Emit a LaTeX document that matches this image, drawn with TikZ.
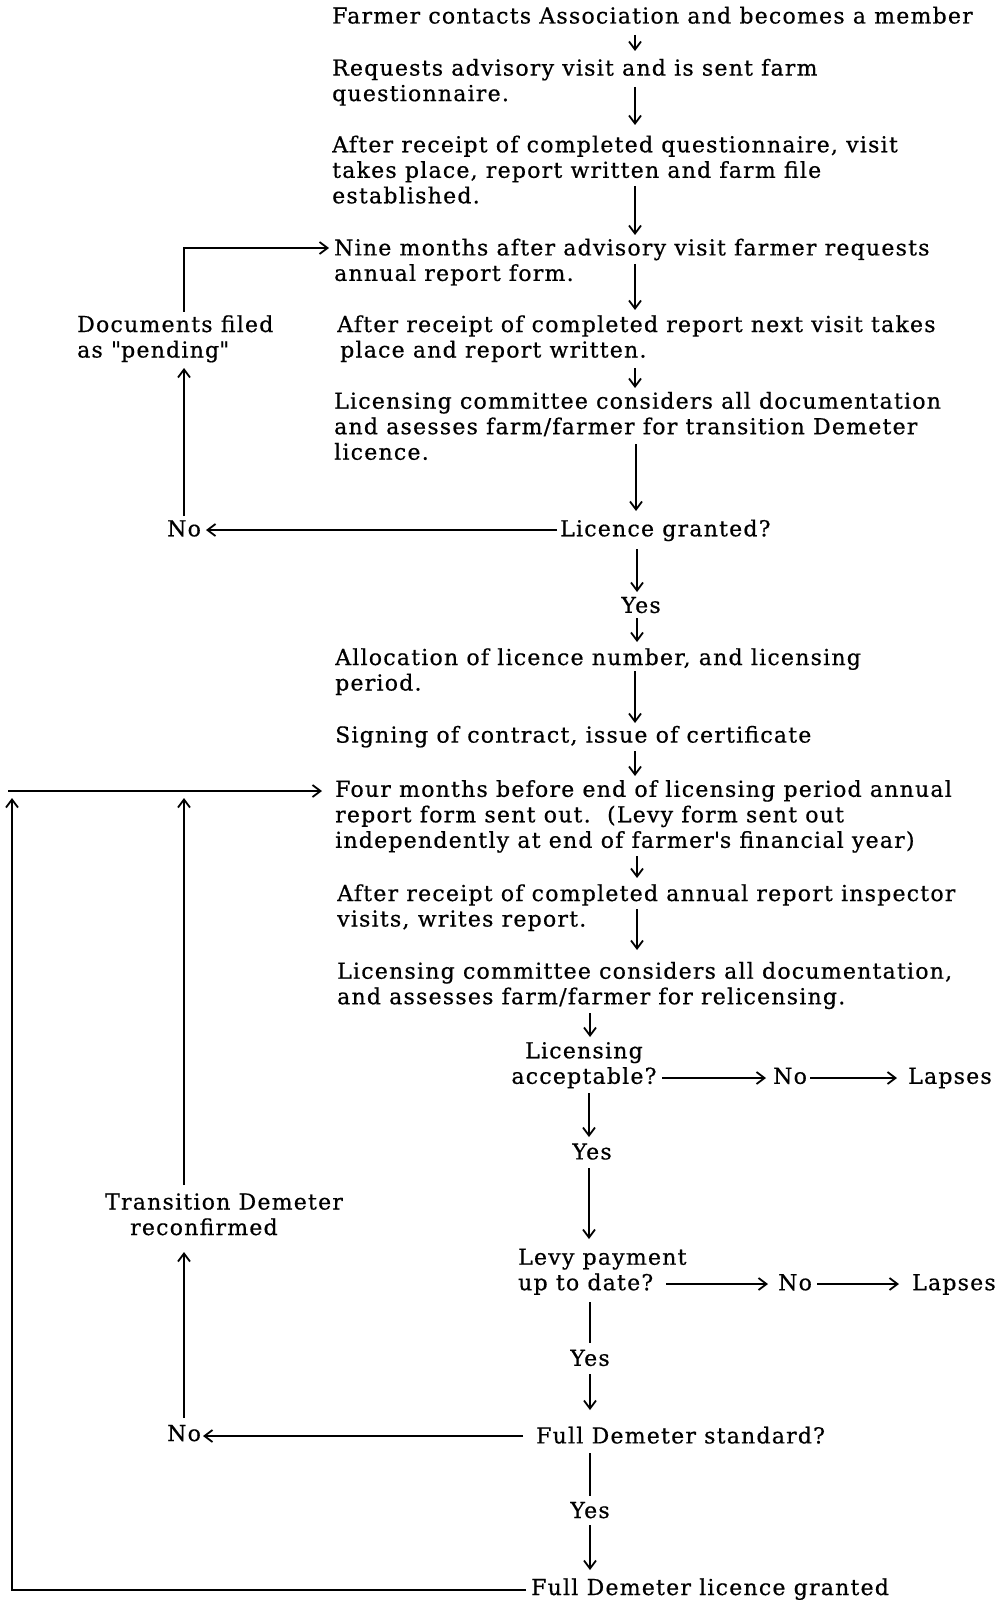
\documentclass[tikz,border=0pt]{standalone}
\usepackage{fontspec}
\setmainfont{DejaVu Serif}[LetterSpace=5.6,FakeBold=0.6]
\newfontfamily\qf{DejaVu Serif}[FakeBold=0.6]
\usetikzlibrary{arrows.meta}
\begin{document}
\begin{tikzpicture}[x=1pt,y=-1pt,
  txt/.style={anchor=base west,inner sep=0pt,align=left,font=\fontsize{22}{25.5}\selectfont},
  ctxt/.style={anchor=base,inner sep=0pt,align=center,font=\fontsize{22}{25.5}\selectfont},
  arr/.style={line width=1.8pt,-{Straight Barb[length=8pt,width=12pt]}},
  ln/.style={line width=1.8pt}]
\useasboundingbox (0,0) rectangle (997,1602);
% ---- main column text (positions are baselines of last lines)
\node[txt] (t1) at (332,23.5) {Farmer contacts Association and becomes a member};
\node[txt] (t2) at (332,101.1) {Requests advisory visit and is sent farm\\questionnaire.};
\node[txt] (t3) at (332,203.3) {After receipt of completed questionnaire, visit\\takes place, report written and farm file\\established.};
\node[txt] (t4) at (334,280.9) {Nine months after advisory visit farmer requests\\annual report form.};
\node[txt] (t5) at (337,357.5) {After receipt of completed report next visit takes\\\hspace*{3pt}place and report written.};
\node[txt] (t6) at (334,459.7) {Licensing committee considers all documentation\\and asesses farm/farmer for transition Demeter\\licence.};
\node[txt] (t7) at (560,536.3) {Licence granted?};
\node[txt] (no1) at (167,536.3) {No};
\node[txt] (pend) at (77,357.5) {Documents filed\\as {\qf"}pending{\qf"}};
\node[ctxt] (yes1) at (641,612.9) {Yes};
\node[txt] (t8) at (335,690.5) {Allocation of licence number, and licensing\\period.};
\node[txt] (t9) at (335,742.6) {Signing of contract, issue of certificate};
\node[txt] (t10) at (335,847.8) {Four months before end of licensing period annual\\report form sent out.\ \ (Levy form sent out\\independently at end of farmer{\qf'}s financial year)};
\node[txt] (t11) at (337,926.5) {After receipt of completed annual report inspector\\visits, writes report.};
\node[txt] (t12) at (337,1004.2) {Licensing committee considers all documentation,\\and assesses farm/farmer for relicensing.};
\node[ctxt] (q1) at (584,1083.8) {Licensing\\acceptable?};
\node[txt] (no2) at (773,1083.8) {No};
\node[txt] (lap1) at (908,1083.8) {Lapses};
\node[ctxt] (yes2) at (592,1159.4) {Yes};
\node[txt] (q2) at (518,1290.2) {Levy payment\\up to date?};
\node[txt] (no3) at (778,1290.2) {No};
\node[txt] (lap2) at (912,1290.2) {Lapses};
\node[ctxt] (yes3) at (590,1365.8) {Yes};
\node[txt] (trans) at (105,1235) {Transition Demeter\\\hspace*{25pt}reconfirmed};
\node[txt] (q3) at (536,1443.4) {Full Demeter standard?};
\node[txt] (no4) at (167,1441) {No};
\node[ctxt] (yes4) at (590,1518) {Yes};
\node[txt] (t16) at (531,1595) {Full Demeter licence granted};
% ---- coordinates
\coordinate (a1s) at (635,35);   \coordinate (a1e) at (635,51);
\coordinate (a2s) at (635,87);   \coordinate (a2e) at (635,125);
\coordinate (a3s) at (635,186);  \coordinate (a3e) at (635,235);
\coordinate (a4s) at (635,264);  \coordinate (a4e) at (635,310);
\coordinate (a5s) at (635,368);  \coordinate (a5e) at (635,388);
\coordinate (a6s) at (636,444);  \coordinate (a6e) at (636,511);
\coordinate (a7s) at (637,549);  \coordinate (a7e) at (637,592);
\coordinate (a8s) at (637,618);  \coordinate (a8e) at (637,642);
\coordinate (a9s) at (635,671);  \coordinate (a9e) at (635,723);
\coordinate (a10s) at (635,751); \coordinate (a10e) at (635,776);
\coordinate (a11s) at (637,856); \coordinate (a11e) at (637,878);
\coordinate (a12s) at (637,909); \coordinate (a12e) at (637,950);
\coordinate (a13s) at (590,1013); \coordinate (a13e) at (590,1037);
\coordinate (a14s) at (589,1093); \coordinate (a14e) at (589,1137);
\coordinate (a15s) at (589,1168); \coordinate (a15e) at (589,1239);
\coordinate (a16s) at (590,1302); \coordinate (a16e) at (590,1343);
\coordinate (a17s) at (590,1374); \coordinate (a17e) at (590,1410);
\coordinate (a18s) at (590,1453); \coordinate (a18e) at (590,1496);
\coordinate (a19s) at (590,1525); \coordinate (a19e) at (590,1570);
% left loop 1
\coordinate (h1s) at (557,530);  \coordinate (h1e) at (206,530);
\coordinate (p1s) at (184,516);  \coordinate (p1e) at (184,368);
\coordinate (p2s) at (184,312);  \coordinate (p2c) at (184,248); \coordinate (p2e) at (329,248);
% decisions
\coordinate (b1s) at (662,1078); \coordinate (b1e) at (766,1078);
\coordinate (b2s) at (810,1078); \coordinate (b2e) at (897,1078);
\coordinate (c1s) at (666,1284); \coordinate (c1e) at (768,1284);
\coordinate (c2s) at (817,1284); \coordinate (c2e) at (899,1284);
\coordinate (d1s) at (523,1436); \coordinate (d1e) at (203,1436);
\coordinate (d2s) at (184,1418); \coordinate (d2e) at (184,1252);
\coordinate (d3s) at (184,1185); \coordinate (d3e) at (184,798);
\coordinate (e1s) at (526,1590); \coordinate (e1c) at (12,1590); \coordinate (e1e) at (12,798);
\coordinate (f1s) at (8,791);    \coordinate (f1e) at (322,791);
% ---- connectors
\foreach \i in {1,...,15,17,19} \draw[arr] (a\i s) -- (a\i e);
\draw[ln] (a16s) -- (a16e);
\draw[ln] (a18s) -- (a18e);
\draw[arr] (h1s) -- (h1e);
\draw[arr] (p1s) -- (p1e);
\draw[arr] (p2s) -- (p2c) -- (p2e);
\draw[arr] (b1s) -- (b1e);
\draw[arr] (b2s) -- (b2e);
\draw[arr] (c1s) -- (c1e);
\draw[arr] (c2s) -- (c2e);
\draw[arr] (d1s) -- (d1e);
\draw[arr] (d2s) -- (d2e);
\draw[arr] (d3s) -- (d3e);
\draw[arr] (e1s) -- (e1c) -- (e1e);
\draw[arr] (f1s) -- (f1e);
\end{tikzpicture}
\end{document}
